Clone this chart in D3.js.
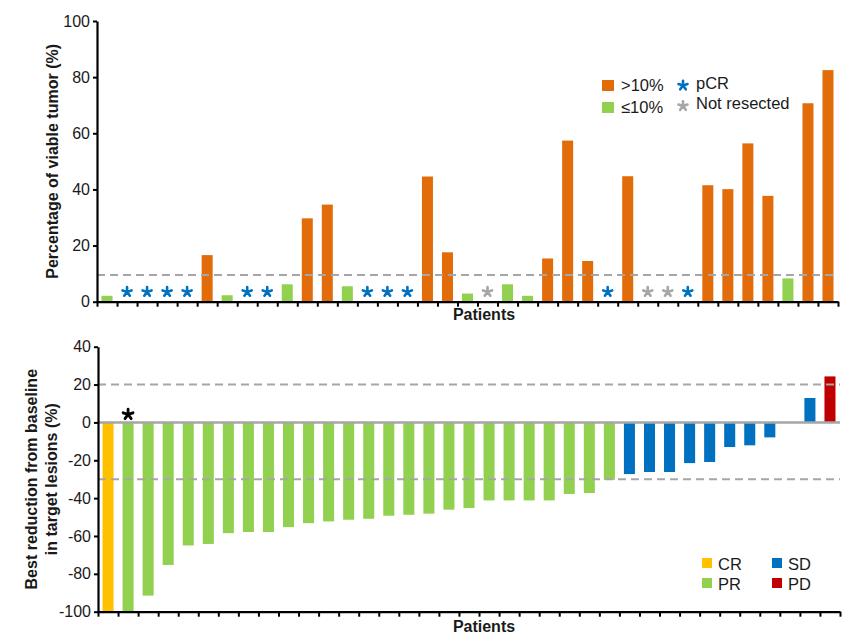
<!DOCTYPE html>
<html>
<head>
<meta charset="utf-8">
<script src="https://cdn.jsdelivr.net/npm/d3@7"></script>
<style>
  body { margin: 0; background: #fff; }
  text { font-family: "Liberation Sans", Arial, sans-serif; fill: #1a1a1a; }
</style>
</head>
<body>
<div id="chart"></div>
<script>
// patients, left to right
var patients = d3.range(1, 38);

// top panel: % viable tumor (null = no bar, marker instead)
var viable = [2.1, null, null, null, null, 16.6, 2.3, null, null, 6.2,
    29.7, 34.6, 5.5, null, null, null, 44.6, 17.6, 2.9, null,
    6.2, 2.1, 15.4, 57.4, 14.5, null, 44.7, null, null, null,
    41.5, 40.1, 56.4, 37.7, 8.3, 70.7, 82.5];
var viableMarker = ["", "pCR", "pCR", "pCR", "pCR", "", "", "pCR", "pCR", "",
    "", "", "", "pCR", "pCR", "pCR", "", "", "", "NR",
    "", "", "", "", "", "pCR", "", "NR", "NR", "pCR",
    "", "", "", "", "", "", ""];
var viableCut = 9.5;
var viableTicks = [0, 20, 40, 60, 80, 100];

// bottom panel: best change from baseline (%)
var change = [-100, -100, -91.5, -75.3, -65, -64.2, -58.5, -57.9, -57.9, -55.3,
    -53.2, -52.3, -51.4, -50.9, -49.3, -48.8, -48.2, -46.1, -45.2, -41.2,
    -41.2, -41.2, -41.2, -37.8, -37.3, -30.3, -27.3, -26.2, -26.2, -21.5,
    -20.9, -13, -12.1, -7.9, null, 12.9, 24.3];
var response = ["CR", "PR", "PR", "PR", "PR", "PR", "PR", "PR", "PR", "PR",
    "PR", "PR", "PR", "PR", "PR", "PR", "PR", "PR", "PR", "PR",
    "PR", "PR", "PR", "PR", "PR", "PR", "SD", "SD", "SD", "SD",
    "SD", "SD", "SD", "SD", null, "SD", "PD"];
var starredPatients = [2];
var changeRefs = [20, -30];
var changeTicks = [40, 20, 0, -20, -40, -60, -80, -100];

var colors = {
    high: "#e36c0a", low: "#92d050",
    pCR: "#0070c0", NR: "#a6a6a6",
    CR: "#ffc000", PR: "#92d050", SD: "#0070c0", PD: "#c00000"
};
var refGrey = "#a6a6a6";

var svg = d3.select("#chart").append("svg")
    .attr("width", 865)
    .attr("height", 643);

// five-armed asterisk like the one in the figure
var asterisk5 = {
    draw: function (ctx, size) {
        var r = Math.sqrt(size) / 2;
        for (var i = 0; i < 5; i++) {
            var a = -Math.PI / 2 + i * 2 * Math.PI / 5;
            ctx.moveTo(0, 0);
            ctx.lineTo(r * Math.cos(a), r * Math.sin(a));
        }
    }
};
var star = d3.symbol().type(asterisk5).size(90);

function addStar(sel, color, big) {
    return sel.attr("d", big ? d3.symbol().type(asterisk5).size(110) : star)
        .attr("fill", "none")
        .attr("stroke", color)
        .attr("stroke-width", big ? 2.8 : 2.6)
        .attr("stroke-linecap", "round");
}

function drawCatAxis(g, y0, x0, x1) {
    var xl = d3.scaleLinear().domain([0, patients.length]).range([x0, x1]);
    var ax = g.append("g")
        .attr("transform", "translate(0," + y0 + ")")
        .call(d3.axisBottom(xl).tickValues(d3.range(0, patients.length + 1))
            .tickSize(5).tickSizeOuter(0).tickFormat(""));
    ax.select(".domain").attr("stroke", "#000").attr("stroke-width", 2.2);
    ax.selectAll(".tick line").attr("stroke", "#000").attr("stroke-width", 2);
}

function styleYAxis(ax) {
    ax.select(".domain").attr("stroke", "#000").attr("stroke-width", 2.2);
    ax.selectAll(".tick line").attr("stroke", "#000").attr("stroke-width", 2);
    ax.selectAll(".tick text").attr("font-size", "16px")
        .style("font-family", "Liberation Sans, Arial, sans-serif").attr("fill", "#1a1a1a");
}

// ---------- top panel ----------
var topG = svg.append("g");
var xTop = d3.scaleBand().domain(patients).range([97, 838])
    .paddingInner(0.45).paddingOuter(0.225);
var yTop = d3.scaleLinear().domain([0, 100]).range([301.7, 21]);

topG.selectAll("rect.bar")
    .data(patients.filter(function (p) { return viable[p - 1] != null; }))
    .enter().append("rect")
    .attr("class", "bar")
    .attr("x", function (p) { return xTop(p); })
    .attr("width", xTop.bandwidth())
    .attr("y", function (p) { return yTop(viable[p - 1]); })
    .attr("height", function (p) { return yTop(0) - yTop(viable[p - 1]); })
    .attr("fill", function (p) { return viable[p - 1] > 10 ? colors.high : colors.low; });

topG.selectAll("path.star")
    .data(patients.filter(function (p) { return viableMarker[p - 1] !== ""; }))
    .enter().append("path")
    .attr("class", "star")
    .attr("transform", function (p) {
        return "translate(" + (xTop(p) + xTop.bandwidth() / 2) + "," + yTop(3.5) + ")";
    })
    .each(function (p) { addStar(d3.select(this), colors[viableMarker[p - 1]]); });

topG.append("line")
    .attr("x1", 97).attr("x2", 838)
    .attr("y1", yTop(viableCut)).attr("y2", yTop(viableCut))
    .attr("stroke", refGrey).attr("stroke-width", 2)
    .attr("stroke-dasharray", "8,5");

var yAxTop = topG.append("g")
    .attr("transform", "translate(97,0)")
    .call(d3.axisLeft(yTop).tickValues(viableTicks).tickSize(4).tickPadding(3).tickSizeOuter(0));
styleYAxis(yAxTop);
drawCatAxis(topG, yTop(0), 97, 838);

topG.append("text")
    .attr("transform", "translate(58," + (yTop(0) + yTop(100)) / 2 + ") rotate(-90)")
    .attr("text-anchor", "middle")
    .attr("font-size", "16px")
    .attr("font-weight", "bold")
    .text("Percentage of viable tumor (%)");

topG.append("text")
    .attr("x", 484).attr("y", 320)
    .attr("text-anchor", "middle")
    .attr("font-size", "16px")
    .attr("font-weight", "bold")
    .text("Patients");

// legend (top)
var legTop = topG.append("g");
legTop.append("rect").attr("x", 602).attr("y", 80).attr("width", 12).attr("height", 11).attr("fill", colors.high);
legTop.append("rect").attr("x", 602).attr("y", 102).attr("width", 12).attr("height", 11).attr("fill", colors.low);
legTop.append("text").attr("x", 621).attr("y", 90.5).attr("font-size", "16.5px").text(">10%");
legTop.append("text").attr("x", 621).attr("y", 112.5).attr("font-size", "16.5px").text("≤10%");
addStar(legTop.append("path").attr("transform", "translate(683,85.5)"), colors.pCR);
addStar(legTop.append("path").attr("transform", "translate(683,106)"), colors.NR);
legTop.append("text").attr("x", 696).attr("y", 88.5).attr("font-size", "16.5px").text("pCR");
legTop.append("text").attr("x", 696).attr("y", 109).attr("font-size", "16.5px").text("Not resected");

// ---------- bottom panel ----------
var botG = svg.append("g");
var xBot = d3.scaleBand().domain(patients).range([98, 840])
    .paddingInner(0.45).paddingOuter(0.225);
var yBot = d3.scaleLinear().domain([-100, 40]).range([611.7, 346.7]);

botG.selectAll("rect.bar")
    .data(patients.filter(function (p) { return change[p - 1] != null; }))
    .enter().append("rect")
    .attr("class", "bar")
    .attr("x", function (p) { return xBot(p); })
    .attr("width", xBot.bandwidth())
    .attr("y", function (p) { return yBot(Math.max(0, change[p - 1])); })
    .attr("height", function (p) { return Math.abs(yBot(change[p - 1]) - yBot(0)); })
    .attr("fill", function (p) { return colors[response[p - 1]]; });

botG.selectAll("line.ref")
    .data(changeRefs)
    .enter().append("line")
    .attr("class", "ref")
    .attr("x1", 98).attr("x2", 840)
    .attr("y1", function (d) { return yBot(d); })
    .attr("y2", function (d) { return yBot(d); })
    .attr("stroke", refGrey).attr("stroke-width", 2)
    .attr("stroke-dasharray", "8,5");

botG.append("line")
    .attr("x1", 98).attr("x2", 840)
    .attr("y1", yBot(0)).attr("y2", yBot(0))
    .attr("stroke", refGrey).attr("stroke-width", 2.5);

botG.selectAll("path.star")
    .data(starredPatients)
    .enter().append("path")
    .attr("class", "star")
    .attr("transform", function (p) {
        return "translate(" + (xBot(p) + xBot.bandwidth() / 2) + "," + (yBot(0) - 8) + ")";
    })
    .each(function () { addStar(d3.select(this), "#000", true); });

var yAxBot = botG.append("g")
    .attr("transform", "translate(98,0)")
    .call(d3.axisLeft(yBot).tickValues(changeTicks).tickSize(4).tickPadding(3).tickSizeOuter(0)
        .tickFormat(function (d) { return String(d); }));
styleYAxis(yAxBot);
drawCatAxis(botG, yBot(-100), 98, 840);

var yTitle = botG.append("g")
    .attr("transform", "translate(0," + (yBot(-100) + yBot(40)) / 2 + ") rotate(-90)");
yTitle.append("text")
    .attr("y", 37).attr("text-anchor", "middle")
    .attr("font-size", "16px").attr("font-weight", "bold")
    .text("Best reduction from baseline");
yTitle.append("text")
    .attr("y", 57).attr("text-anchor", "middle")
    .attr("font-size", "16px").attr("font-weight", "bold")
    .text("in target lesions (%)");

botG.append("text")
    .attr("x", 484).attr("y", 632)
    .attr("text-anchor", "middle")
    .attr("font-size", "16px")
    .attr("font-weight", "bold")
    .text("Patients");

// legend (bottom)
var legBot = [
    {key: "CR", x: 702, y: 558},
    {key: "PR", x: 702, y: 578},
    {key: "SD", x: 772, y: 558},
    {key: "PD", x: 772, y: 578}
];
var lb = botG.selectAll("g.leg").data(legBot).enter().append("g")
    .attr("class", "leg")
    .attr("transform", function (d) { return "translate(" + d.x + "," + d.y + ")"; });
lb.append("rect").attr("width", 10).attr("height", 10)
    .attr("fill", function (d) { return colors[d.key]; });
lb.append("text").attr("x", 16).attr("y", 11.5).attr("font-size", "16.5px")
    .text(function (d) { return d.key; });
</script>
</body>
</html>
